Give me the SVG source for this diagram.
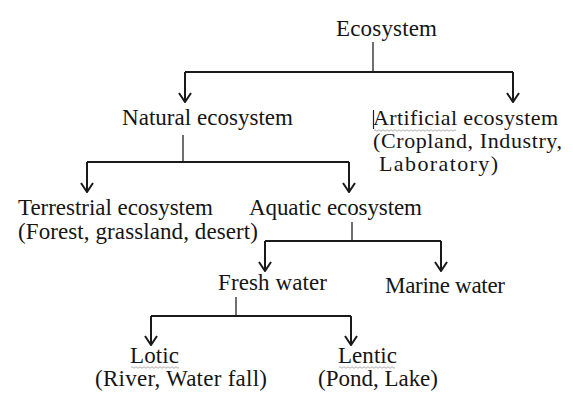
<svg xmlns="http://www.w3.org/2000/svg" width="573" height="401" viewBox="0 0 573 401">
<defs>
<marker id="arr" viewBox="0 0 12 14" refX="11" refY="7" markerWidth="12" markerHeight="14" markerUnits="userSpaceOnUse" orient="auto">
<path d="M2,1 L11,7 L2,13" fill="none" stroke="#1a1a1a" stroke-width="2"/>
</marker>
</defs>
<style>
text{font-family:"Liberation Serif","Times New Roman",serif;font-size:23px;fill:#151515}
.sm{font-size:22px}
.ln{fill:none;stroke:#222;stroke-width:1.3}
.ar{fill:none;stroke:#1a1a1a;stroke-width:2}
.wv{fill:none;stroke:#9a9a9a;stroke-width:0.8}
</style>
<rect width="573" height="401" fill="#fff"/>
<g id="connectors">
<path class="ln" d="M373,42 V72"/>
<path class="ar" d="M185,72 H513"/>
<path class="ar" d="M185,72 V102" marker-end="url(#arr)"/>
<path class="ar" d="M513,72 V102" marker-end="url(#arr)"/>
<path class="ln" d="M183,135 V162"/>
<path class="ar" d="M87,162 H349"/>
<path class="ar" d="M87,162 V192" marker-end="url(#arr)"/>
<path class="ar" d="M349,162 V192" marker-end="url(#arr)"/>
<path class="ln" d="M352,222 V241"/>
<path class="ar" d="M265,241 H441"/>
<path class="ar" d="M265,241 V271" marker-end="url(#arr)"/>
<path class="ar" d="M441,241 V271" marker-end="url(#arr)"/>
<path class="ln" d="M236,297 V316"/>
<path class="ar" d="M151,316 H351"/>
<path class="ar" d="M151,316 V345" marker-end="url(#arr)"/>
<path class="ar" d="M351,316 V345" marker-end="url(#arr)"/>
</g>
<g id="ecosystem"><text x="336" y="36" textLength="101">Ecosystem</text></g>
<g id="natural"><text x="122" y="125" textLength="171">Natural ecosystem</text></g>
<g id="artificial">
<path d="M373.5,110 V129" stroke="#222" stroke-width="1.2"/>
<text class="sm" x="373" y="125" textLength="185">Artificial ecosystem</text>
<text class="sm" x="373" y="148" textLength="189">(Cropland, Industry,</text>
<text class="sm" x="379" y="171" textLength="119">Laboratory)</text>
<path class="wv" d="M374,130.5 q1,-1.5 2,0 t2,0 t2,0 t2,0 t2,0 t2,0 t2,0 t2,0 t2,0 t2,0 t2,0 t2,0 t2,0 t2,0 t2,0 t2,0 t2,0 t2,0 t2,0 t2,0 t2,0 t2,0 t2,0 t2,0 t2,0 t2,0 t2,0 t2,0 t2,0 t2,0 t2,0 t2,0 t2,0 t2,0 t2,0 t2,0 t2,0 t2,0 t2,0 t2,0 t2,0"/>
</g>
<g id="terrestrial">
<text x="18" y="215" textLength="195">Terrestrial ecosystem</text>
<text x="18" y="239" textLength="240">(Forest, grassland, desert)</text>
</g>
<g id="aquatic"><text x="249" y="215" textLength="173">Aquatic ecosystem</text></g>
<g id="fresh"><text x="218" y="290" textLength="109">Fresh water</text></g>
<g id="marine"><text x="385" y="293" textLength="120">Marine water</text></g>
<g id="lotic">
<text x="130" y="363" textLength="49">Lotic</text>
<text x="95" y="386" textLength="172">(River, Water fall)</text>
<path class="wv" d="M131,367.5 q1,-1.5 2,0 t2,0 t2,0 t2,0 t2,0 t2,0 t2,0 t2,0 t2,0 t2,0 t2,0 t2,0 t2,0 t2,0 t2,0 t2,0 t2,0 t2,0 t2,0 t2,0 t2,0 t2,0 t2,0 t2,0"/>
</g>
<g id="lentic">
<text x="338" y="363" textLength="59">Lentic</text>
<text x="318" y="386" textLength="120">(Pond, Lake)</text>
<path class="wv" d="M339,367.5 q1,-1.5 2,0 t2,0 t2,0 t2,0 t2,0 t2,0 t2,0 t2,0 t2,0 t2,0 t2,0 t2,0 t2,0 t2,0 t2,0 t2,0 t2,0 t2,0 t2,0 t2,0 t2,0 t2,0 t2,0 t2,0 t2,0 t2,0 t2,0 t2,0"/>
</g>
</svg>
